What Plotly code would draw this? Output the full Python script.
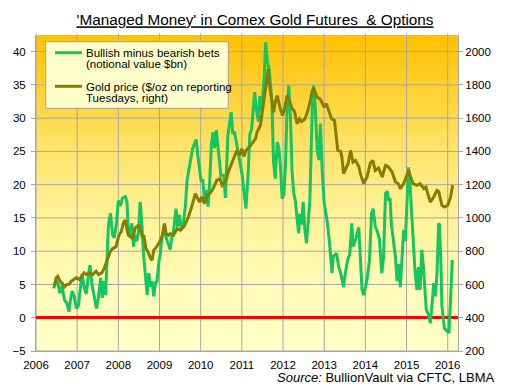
import plotly.graph_objects as go

# ---------------- data ----------------
year_ticks = list(range(2006, 2017))
left_ticks = [-5, 0, 5, 10, 15, 20, 25, 30, 35, 40]
right_ticks = [200, 400, 600, 800, 1000, 1200, 1400, 1600, 1800, 2000]

bets_years = [
    2006.43, 2006.48, 2006.53, 2006.58, 2006.63, 2006.69, 2006.75, 2006.80, 2006.84, 2006.88,
    2006.93, 2006.98, 2007.03, 2007.07, 2007.12, 2007.17, 2007.22, 2007.27, 2007.31, 2007.36,
    2007.41, 2007.47, 2007.52, 2007.57, 2007.61, 2007.65, 2007.69, 2007.72, 2007.76, 2007.81,
    2007.86, 2007.90, 2007.95, 2008.00, 2008.05, 2008.10, 2008.17, 2008.21, 2008.25, 2008.29,
    2008.33, 2008.37, 2008.41, 2008.45, 2008.49, 2008.53, 2008.56, 2008.61, 2008.65, 2008.70,
    2008.74, 2008.78, 2008.82, 2008.86, 2008.90, 2008.94, 2008.98, 2009.02, 2009.06, 2009.10,
    2009.14, 2009.18, 2009.22, 2009.26, 2009.30, 2009.34, 2009.40, 2009.44, 2009.48, 2009.53,
    2009.58, 2009.63, 2009.67, 2009.71, 2009.76, 2009.80, 2009.85, 2009.89, 2009.93, 2009.97,
    2010.01, 2010.05, 2010.10, 2010.13, 2010.18, 2010.22, 2010.26, 2010.30, 2010.34, 2010.38,
    2010.43, 2010.49, 2010.56, 2010.60, 2010.66, 2010.74, 2010.78, 2010.82, 2010.88, 2010.94,
    2011.01, 2011.07, 2011.10, 2011.16, 2011.19, 2011.24, 2011.31, 2011.35, 2011.40, 2011.44,
    2011.48, 2011.54, 2011.58, 2011.62, 2011.66, 2011.69, 2011.73, 2011.77, 2011.81, 2011.86,
    2011.90, 2011.94, 2011.98, 2012.02, 2012.06, 2012.10, 2012.14, 2012.18, 2012.22, 2012.26,
    2012.30, 2012.34, 2012.38, 2012.41, 2012.45, 2012.49, 2012.53, 2012.57, 2012.61, 2012.65,
    2012.71, 2012.74, 2012.78, 2012.83, 2012.87, 2012.91, 2012.95, 2013.00, 2013.04, 2013.08,
    2013.13, 2013.19, 2013.22, 2013.30, 2013.35, 2013.40, 2013.47, 2013.50, 2013.57, 2013.62,
    2013.67, 2013.70, 2013.76, 2013.84, 2013.88, 2013.92, 2013.96, 2014.04, 2014.10, 2014.15,
    2014.19, 2014.24, 2014.29, 2014.34, 2014.40, 2014.44, 2014.49, 2014.53, 2014.57, 2014.60,
    2014.63, 2014.73, 2014.77, 2014.81, 2014.85, 2014.89, 2014.93, 2014.97, 2015.01, 2015.05,
    2015.08, 2015.11, 2015.16, 2015.20, 2015.25, 2015.29, 2015.33, 2015.37, 2015.41, 2015.44,
    2015.48, 2015.52, 2015.58, 2015.62, 2015.66, 2015.70, 2015.74, 2015.78, 2015.80, 2015.83,
    2015.86, 2015.92, 2015.99, 2016.03, 2016.07, 2016.11,
]
bets_values = [
    4.4, 5.6, 5.2, 3.7, 4.8, 2.7, 2.2, 0.9, 2.8, 4.0,
    3.2, 1.4, 1.8, 4.2, 6.6, 4.5, 3.6, 6.2, 7.9, 5.0,
    3.2, 1.4, 3.2, 6.0, 3.0, 5.5, 3.4, 8.6, 14.0, 15.7,
    12.5, 12.0, 14.0, 17.6, 16.8, 18.0, 18.2, 17.4, 12.2, 12.8,
    14.2, 10.7, 12.5, 11.5, 13.0, 17.4, 15.2, 9.7, 6.2, 3.4,
    6.7, 4.7, 5.5, 3.2, 5.2, 5.5, 8.2, 9.7, 12.2, 12.9,
    12.5, 11.7, 10.7, 10.2, 12.2, 13.0, 16.4, 13.7, 15.5, 13.4,
    14.2, 16.9, 20.7, 22.2, 24.2, 25.3, 26.2, 26.8, 24.5, 22.7,
    20.5, 20.8, 17.2, 19.2, 16.7, 20.5, 26.0, 27.9, 25.5, 28.2,
    25.0, 21.4, 21.4, 18.0, 27.4, 30.9, 27.6, 28.0, 25.9, 23.5,
    21.4, 17.9, 16.4, 22.5, 27.4, 28.5, 33.9, 31.5, 29.5, 33.3,
    31.0, 35.9, 41.4, 38.4, 37.5, 35.6, 32.4, 23.4, 20.9, 26.4,
    25.5, 22.5, 17.9, 18.5, 23.0, 31.9, 34.9, 30.0, 22.0, 18.7,
    17.6, 15.0, 12.7, 15.6, 14.0, 17.4, 13.2, 11.2, 14.7, 17.4,
    31.2, 34.9, 32.0, 25.2, 23.7, 29.2, 22.2, 17.2, 15.7, 14.2,
    11.2, 6.7, 9.2, 9.7, 7.7, 6.7, 4.6, 6.2, 8.7, 9.5,
    14.2, 10.7, 11.7, 13.6, 8.7, 4.2, 3.4, 5.7, 8.7, 15.6,
    16.4, 13.7, 13.0, 11.9, 6.7, 9.0, 18.7, 19.0, 17.5, 18.0,
    14.2, 9.2, 5.5, 8.1, 4.6, 8.5, 13.2, 11.5, 16.7, 22.6,
    20.5, 16.7, 11.7, 7.6, 4.2, 7.6, 4.2, 10.2, 7.6, 4.2,
    1.2, 0.7, -0.8, 2.1, 5.2, 3.2, 6.7, 14.2, 14.0, 9.2,
    1.7, -1.6, -2.1, -2.3, 2.7, 8.7,
]

gold_years = [
    2006.45, 2006.49, 2006.53, 2006.58, 2006.63, 2006.69, 2006.75, 2006.80, 2006.86, 2006.91,
    2006.98, 2007.05, 2007.10, 2007.17, 2007.22, 2007.30, 2007.38, 2007.46, 2007.52, 2007.60,
    2007.66, 2007.72, 2007.80, 2007.86, 2007.94, 2008.02, 2008.07, 2008.13, 2008.17, 2008.23,
    2008.29, 2008.35, 2008.41, 2008.49, 2008.53, 2008.58, 2008.62, 2008.67, 2008.74, 2008.78,
    2008.82, 2008.86, 2008.90, 2008.98, 2009.02, 2009.06, 2009.12, 2009.16, 2009.22, 2009.26,
    2009.34, 2009.43, 2009.51, 2009.59, 2009.65, 2009.70, 2009.78, 2009.83, 2009.87, 2009.91,
    2009.97, 2010.03, 2010.09, 2010.15, 2010.23, 2010.30, 2010.39, 2010.47, 2010.52, 2010.58,
    2010.63, 2010.67, 2010.76, 2010.83, 2010.88, 2010.94, 2011.00, 2011.05, 2011.10, 2011.21,
    2011.33, 2011.37, 2011.45, 2011.53, 2011.58, 2011.64, 2011.67, 2011.71, 2011.77, 2011.81,
    2011.86, 2011.93, 2011.99, 2012.04, 2012.10, 2012.16, 2012.22, 2012.28, 2012.34, 2012.40,
    2012.45, 2012.52, 2012.58, 2012.65, 2012.71, 2012.75, 2012.83, 2012.90, 2013.00, 2013.05,
    2013.12, 2013.18, 2013.25, 2013.30, 2013.33, 2013.40, 2013.43, 2013.47, 2013.53, 2013.58,
    2013.64, 2013.70, 2013.76, 2013.84, 2013.88, 2013.96, 2014.04, 2014.12, 2014.18, 2014.24,
    2014.32, 2014.41, 2014.49, 2014.55, 2014.65, 2014.73, 2014.80, 2014.85, 2014.93, 2015.01,
    2015.05, 2015.10, 2015.16, 2015.25, 2015.33, 2015.42, 2015.47, 2015.54, 2015.58, 2015.66,
    2015.74, 2015.78, 2015.82, 2015.86, 2015.92, 2016.00, 2016.07, 2016.12,
]
gold_prices = [
    590, 640, 650, 620, 610, 586, 600, 600, 620, 630,
    640, 630, 650, 670, 660, 670, 660, 680, 660, 670,
    700, 736, 796, 816, 826, 900, 916, 976, 986, 906,
    886, 876, 940, 956, 936, 886, 896, 816, 786, 756,
    746, 806, 816, 846, 866, 886, 966, 906, 896, 906,
    896, 936, 926, 946, 976, 1006, 1066, 1106, 1146, 1126,
    1096, 1126, 1086, 1130, 1150, 1176, 1226, 1236, 1196, 1210,
    1236, 1276, 1336, 1370, 1406, 1376, 1416, 1370, 1406, 1436,
    1476, 1516, 1556, 1696, 1780, 1896, 1800, 1736, 1636, 1696,
    1736, 1660, 1616, 1660, 1736, 1700, 1660, 1640, 1566, 1596,
    1580, 1590, 1626, 1690, 1766, 1776, 1726, 1716, 1666, 1686,
    1640, 1596, 1586, 1466, 1406, 1400, 1366, 1266, 1300, 1326,
    1406, 1336, 1346, 1310, 1266, 1206, 1246, 1330, 1346, 1286,
    1300, 1246, 1316, 1310, 1276, 1216, 1206, 1176, 1206, 1256,
    1286, 1246, 1206, 1196, 1206, 1176, 1186, 1126, 1096, 1126,
    1166, 1160, 1116, 1076, 1066, 1076, 1126, 1196,
]

bets_name = "Bullish minus bearish bets<br>(notional value $bn)"
gold_name = "Gold price ($/oz on reporting<br>Tuesdays, right)"

# ---------------- styling ----------------
FONT = "Liberation Sans, Arial, sans-serif"
GRID = "#A6A6A6"
GREEN = "#14C560"
OLIVE = "#857D00"

fig = go.Figure()
fig.add_trace(go.Scatter(x=bets_years, y=bets_values, mode="lines", name=bets_name,
                         line=dict(color=GREEN, width=3), hoverinfo="skip", showlegend=False))
fig.add_trace(go.Scatter(x=gold_years, y=gold_prices, mode="lines", yaxis="y2", name=gold_name,
                         line=dict(color=OLIVE, width=3), hoverinfo="skip", showlegend=False))

# vertical gradient background of the plot area (orange at top -> pale yellow)
stops = [(0.0, (255, 192, 0)), (0.24, (255, 216, 64)), (0.36, (255, 227, 106)),
         (0.58, (255, 243, 154)), (0.79, (255, 251, 184)), (1.0, (255, 255, 198))]
def grad(t):
    for (t0, c0), (t1, c1) in zip(stops[:-1], stops[1:]):
        if t0 <= t <= t1:
            f = (t - t0) / (t1 - t0)
            return "rgb(%d,%d,%d)" % tuple(round(a + (b - a) * f) for a, b in zip(c0, c1))
    return "rgb(%d,%d,%d)" % stops[-1][1]

shapes = []
N = 90
for i in range(N):
    t = (i + 0.5) / N  # 0 = top
    shapes.append(dict(type="rect", xref="paper", yref="paper",
                       x0=0, x1=1, y0=1 - (i + 1) / N, y1=min(1.0, 1 - i / N + 0.003),
                       fillcolor=grad(t), line=dict(width=0), layer="below"))
# grid lines on top of the gradient (at the axis ticks)
for yv in left_ticks:
    shapes.append(dict(type="line", xref="paper", yref="y", x0=0, x1=1, y0=yv, y1=yv,
                       line=dict(color=GRID, width=1), layer="below"))
for xv in year_ticks:
    shapes.append(dict(type="line", xref="x", yref="paper", x0=xv, x1=xv, y0=0, y1=1.005,
                       line=dict(color=GRID, width=1), layer="below"))

# legend drawn as a box with samples (page px -> paper coords)
def px(xp):
    return (xp - 36) / 422
def py(yp):
    return (351 - yp) / 316

shapes.append(dict(type="rect", xref="paper", yref="paper", x0=px(45.7), x1=px(228.3),
                   y0=py(108.3), y1=py(41.7), fillcolor="#FFFFCC",
                   line=dict(color="#A0A0A0", width=1), layer="above"))
shapes.append(dict(type="line", xref="paper", yref="paper", x0=px(55), x1=px(82),
                   y0=py(52.7), y1=py(52.7), line=dict(color=GREEN, width=3), layer="above"))
shapes.append(dict(type="line", xref="paper", yref="paper", x0=px(55), x1=px(82),
                   y0=py(86.3), y1=py(86.3), line=dict(color=OLIVE, width=3), layer="above"))

annotations = []
for label, ys in ((bets_name, (52.7, 64.3)), (gold_name, (86.7, 98.3))):
    for line_text, yl in zip(label.split("<br>"), ys):
        annotations.append(dict(text=line_text, xref="paper", yref="paper", x=px(84.3), y=py(yl),
                                xanchor="left", yanchor="middle", showarrow=False,
                                font=dict(family=FONT, size=11.5, color="#000000")))
annotations.append(dict(
    text="<i>Source:</i> BullionVault via CFTC, LBMA",
    xref="paper", yref="paper", x=px(497), y=py(377),
    xanchor="right", yanchor="middle", showarrow=False,
    font=dict(family=FONT, size=13, color="#000000"),
))

# The page body has an 8px margin, so the figure is 8px smaller than the window.
fig.update_layout(
    width=503, height=383,
    margin=dict(l=28, r=53, t=27, b=40, autoexpand=False),
    paper_bgcolor="white", plot_bgcolor="rgba(0,0,0,0)",
    font=dict(family=FONT, size=11.5, color="#000000"),
    title=dict(
        text="'Managed Money' in Comex Gold Futures  & Options",
        x=(255 - 8) / 503, xanchor="center", xref="container",
        y=1 - 12 / 383, yanchor="middle", yref="container",
        font=dict(family=FONT, size=15.3, color="#000000", lineposition="under"),
    ),
    xaxis=dict(
        range=[2006, 2016.25], tickvals=year_ticks, ticktext=[str(y) for y in year_ticks],
        showgrid=False, zeroline=False,
        showline=True, linecolor=GRID, linewidth=1, ticks="", ticklabelstandoff=3,
        tickfont=dict(size=11.5),
    ),
    yaxis=dict(
        range=[-5, 42.5], tickvals=left_ticks,
        showgrid=False,
        zeroline=True, zerolinecolor="#FF0000", zerolinewidth=2.5,
        showline=True, linecolor=GRID, linewidth=1,
        ticks="outside", ticklen=4, tickcolor=GRID, ticklabelstandoff=3,
        tickfont=dict(size=11.5),
    ),
    yaxis2=dict(
        range=[200, 2100], tickvals=right_ticks, overlaying="y", side="right",
        showgrid=False, zeroline=False,
        showline=True, linecolor=GRID, linewidth=1,
        ticks="outside", ticklen=4, tickcolor=GRID,
        tickfont=dict(size=11.5),
    ),
    shapes=shapes,
    annotations=annotations,
    showlegend=False,
)

fig.write_html("out.html")
